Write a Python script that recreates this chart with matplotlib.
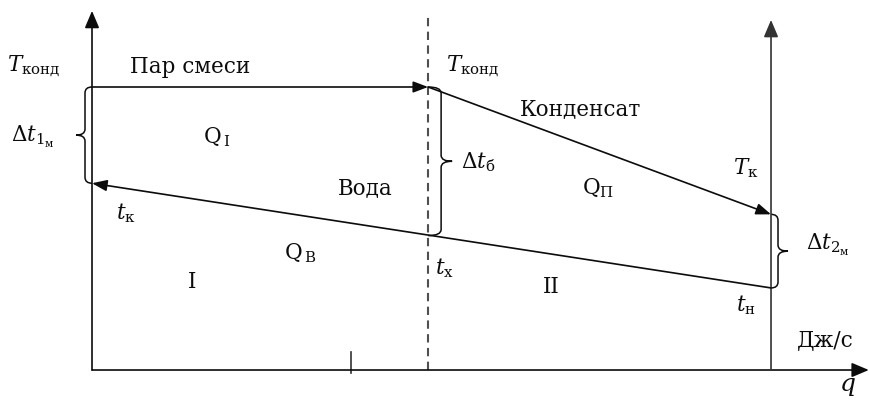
import matplotlib.pyplot as plt
import numpy as np
from matplotlib.path import Path
from matplotlib.patches import PathPatch

plt.rcParams['font.family'] = ['DejaVu Serif']
plt.rcParams['mathtext.fontset'] = 'dejavuserif'

# temperatures (arbitrary units) and heat-flow positions along q
T_cond = 100.0   # condensation temperature
T_k    = 55.0    # condensate leaving temperature
t_k    = 66.0    # water final temperature
t_x    = 47.5    # water temperature at zone boundary
t_n    = 29.0    # water initial temperature
q_mid  = 4.95    # boundary between zones I and II
q_end  = 10.0    # total heat load
q_tick = 3.82

# zone lines
vapour_q = [0.0, q_mid]
vapour_T = [T_cond, T_cond]
cond_q   = [q_mid, q_end]
cond_T   = [T_cond, T_k]
water_q  = [q_end, 0.0]
water_T  = [t_n, t_k]

fig = plt.figure(figsize=(8.69, 4.01), dpi=100)
ax = fig.add_axes([0, 0, 1, 1])
ax.axis('off')
ax.set_xlim(-1.355, 11.443)
ax.set_ylim(-10.95, 130.74)

ink = '#0c0c0c'
lw = 1.2

def arrow(x0, y0, x1, y1, hl=0.45, hw=0.17, color=ink, lw=lw):
    ax.annotate('', xy=(x1, y1), xytext=(x0, y0),
                arrowprops=dict(arrowstyle='-|>,head_length=%g,head_width=%g' % (hl, hw),
                                mutation_scale=20, color=color, lw=lw,
                                shrinkA=0, shrinkB=0))

# axes
arrow(0, 0, 0, 126.9, hl=0.52, hw=0.22)
arrow(0, 0, 11.44, 0, hl=0.52, hw=0.22)
arrow(q_end, 0, q_end, 123.7, hl=0.52, hw=0.22, color='#333333')
ax.plot([q_mid, q_mid], [0, 125.4], color='#505050', lw=1.5,
        linestyle=(0, (4.0, 2.6)))
ax.plot([q_tick, q_tick], [-1.1, 6.4], color='#333333', lw=1.2)

# heat-carrier lines
arrow(vapour_q[0], vapour_T[0], vapour_q[1], vapour_T[1])
arrow(cond_q[0], cond_T[0], cond_q[1], cond_T[1])
arrow(water_q[0], water_T[0], water_q[1], water_T[1])


def brace(q, T_top, T_bot, col_off, tip, r=6):
    # curly brace in pixel space, hooks ending on (q, T_top) and (q, T_bot)
    (xa, yt), (_, yb) = ax.transData.transform([(q, T_top), (q, T_bot)])
    d = np.sign(col_off)
    xc = xa + col_off
    ym = 0.5 * (yt + yb)
    verts = [(xa, yt), (xc, yt), (xc, yt - r),
             (xc, ym + r), (xc, ym), (xc + d * tip, ym),
             (xc, ym), (xc, ym - r),
             (xc, yb + r), (xc, yb), (xa, yb)]
    codes = [Path.MOVETO, Path.CURVE3, Path.CURVE3,
             Path.LINETO, Path.CURVE3, Path.CURVE3,
             Path.CURVE3, Path.CURVE3,
             Path.LINETO, Path.CURVE3, Path.CURVE3]
    verts = ax.transData.inverted().transform(verts)
    ax.add_patch(PathPatch(Path(verts, codes), fill=False, ec=ink, lw=1.1))

brace(0, T_cond, t_k, -7, 9)
brace(q_mid, T_cond, t_x, 13, 11)
brace(q_end, T_k, t_n, 7, 10)

fs = 15.5
txt = dict(color=ink, fontsize=fs)
ax.text(-1.25, 107.4, r'$T_{\mathrm{конд}}$', ha='left', va='center', **txt)
ax.text(0.56, 104.9, 'Пар смеси', ha='left', va='baseline', **txt)
ax.text(1.83, 82.3, r'$\mathrm{Q}_{\,\mathrm{I}}$', ha='center', va='center', **txt)
ax.text(-1.19, 82.3, r'$\Delta t_{1_{\mathrm{м}}}$', ha='left', va='center', **txt)
ax.text(5.60, 107.4, r'$T_{\mathrm{конд}}$', ha='center', va='center', **txt)
ax.text(7.20, 92.2, 'Конденсат', ha='center', va='center', **txt)
ax.text(5.44, 73.5, r'$\Delta t_{\mathrm{б}}$', ha='left', va='center', **txt)
ax.text(4.03, 64.3, 'Вода', ha='center', va='center', **txt)
ax.text(7.45, 64.3, r'$\mathrm{Q}_{\mathrm{П}}$', ha='center', va='center', **txt)
ax.text(9.63, 71.4, r'$T_{\mathrm{к}}$', ha='center', va='center', **txt)
ax.text(0.50, 55.5, r'$t_{\mathrm{к}}$', ha='center', va='center', **txt)
ax.text(3.07, 41.3, r'$\mathrm{Q}_{\,\mathrm{В}}$', ha='center', va='center', **txt)
ax.text(1.47, 31.1, 'I', ha='center', va='center', **txt)
ax.text(5.19, 36.0, r'$t_{\mathrm{х}}$', ha='center', va='center', **txt)
ax.text(6.77, 29.3, 'II', ha='center', va='center', **txt)
ax.text(9.63, 23.0, r'$t_{\mathrm{н}}$', ha='center', va='center', **txt)
ax.text(10.52, 44.2, r'$\Delta t_{2_{\mathrm{м}}}$', ha='left', va='center', **txt)
ax.text(10.80, 10.6, 'Дж/с', ha='center', va='center', **txt)
ax.text(11.12, -5.65, r'$q$', ha='center', va='center', color=ink, fontsize=18)

fig.savefig('out.png', dpi=100)
